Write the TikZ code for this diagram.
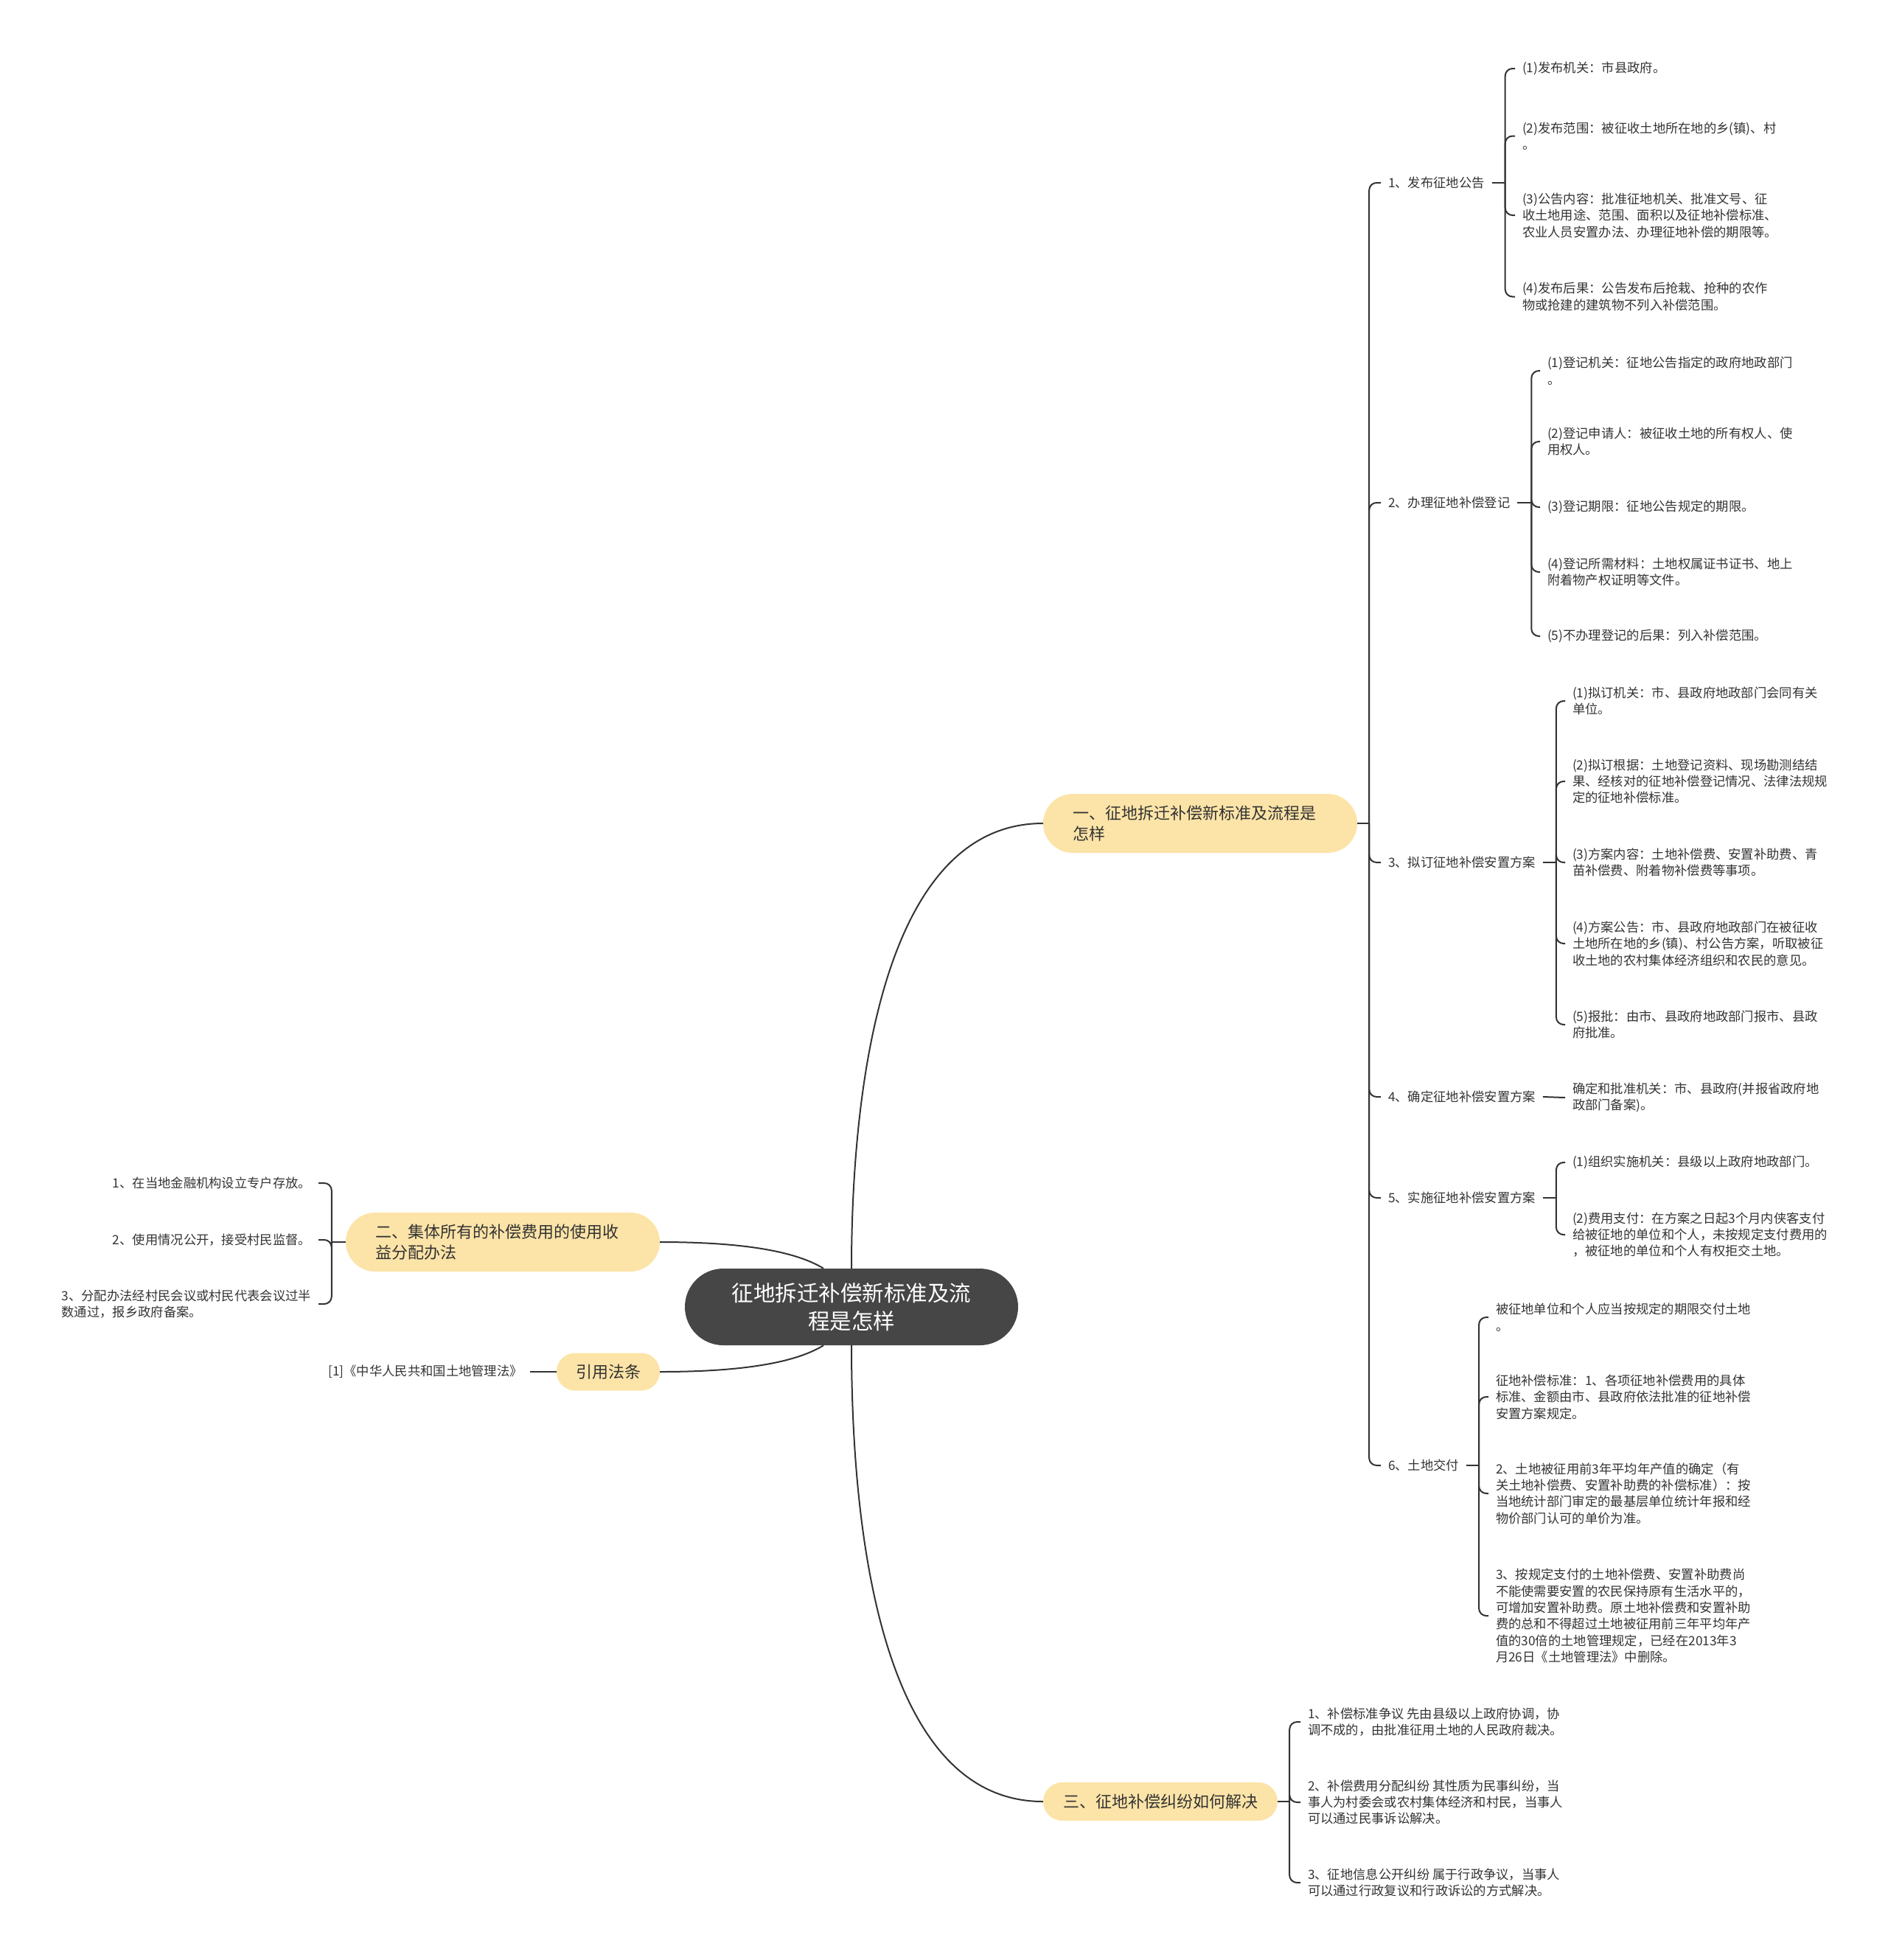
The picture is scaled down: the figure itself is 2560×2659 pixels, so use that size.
\documentclass[tikz,border=0pt]{standalone}
\usepackage{fontspec}
\setmainfont{Noto Sans CJK SC}
\usetikzlibrary{positioning}
\definecolor{hubgray}{RGB}{70,70,70}
\definecolor{branchyellow}{RGB}{252,228,168}
\definecolor{linegray}{RGB}{51,51,51}
\definecolor{textgray}{RGB}{51,51,51}
\newcommand{\leafsize}{\fontsize{17.3}{22.4}\selectfont}
\newcommand{\branchsize}{\fontsize{22}{28.5}\selectfont}
\newcommand{\hubsize}{\fontsize{29.5}{38}\selectfont}
\tikzstyle{hubnode} = [fill=hubgray, text=white, rounded corners=52pt, minimum width=452pt, minimum height=104pt, align=center, font=\hubsize, inner sep=0pt]
\tikzstyle{branch} = [fill=branchyellow, text=textgray, font=\branchsize, inner ysep=0pt]
\tikzstyle{topic} = [anchor=west, align=left, inner sep=0pt, outer xsep=10pt, font=\leafsize, text=textgray]
\tikzstyle{topicL} = [topic, anchor=east]
\tikzstyle{link} = [draw=linegray, line width=2pt, rounded corners=10pt]

\begin{document}
\begin{tikzpicture}[x=1pt, y=-1pt,
    wide/.style={branch, rounded corners=40pt, minimum height=80pt, inner xsep=40pt, text width=346pt, align=left},
    slim/.style={branch, rounded corners=26pt, minimum height=52pt, align=center}]
\useasboundingbox (0,0) rectangle (2560,2659);

% Define nodes
\node[hubnode]                           (hub) at (1155,1773) {征地拆迁补偿新标准及流\\程是怎样};
\node[wide]                              (b1)  at (1628,1117) {一、征地拆迁补偿新标准及流程是\\怎样};
\node[wide]                              (b2)  at (682,1685)  {二、集体所有的补偿费用的使用收\\益分配办法};
\node[slim, minimum width=318pt]         (b3)  at (1574,2444) {三、征地补偿纠纷如何解决};
\node[slim, minimum width=140pt, rounded corners=25pt, minimum height=51pt] (b4) at (825,1861) {引用法条};

\node[topic] (L1) at (1873,248)  {1、发布征地公告};
\node[topic] (L2) at (1873,682)  {2、办理征地补偿登记};
\node[topic] (L3) at (1873,1170) {3、拟订征地补偿安置方案};
\node[topic] (L4) at (1873,1488) {4、确定征地补偿安置方案};
\node[topic] (L5) at (1873,1625) {5、实施征地补偿安置方案};
\node[topic] (L6) at (1873,1988) {6、土地交付};

\node[topic] (c11) at (2055,93)    {(1)发布机关：市县政府。};
\node[topic] (c12) at (2055,184.5) {(2)发布范围：被征收土地所在地的乡(镇)、村\\。};
\node[topic] (c13) at (2055,292)   {(3)公告内容：批准征地机关、批准文号、征\\收土地用途、范围、面积以及征地补偿标准、\\农业人员安置办法、办理征地补偿的期限等。};
\node[topic] (c14) at (2055,402.5) {(4)发布后果：公告发布后抢栽、抢种的农作\\物或抢建的建筑物不列入补偿范围。};

\node[topic] (c21) at (2089,503) {(1)登记机关：征地公告指定的政府地政部门\\。};
\node[topic] (c22) at (2089,599) {(2)登记申请人：被征收土地的所有权人、使\\用权人。};
\node[topic] (c23) at (2089,688) {(3)登记期限：征地公告规定的期限。};
\node[topic] (c24) at (2089,776) {(4)登记所需材料：土地权属证书证书、地上\\附着物产权证明等文件。};
\node[topic] (c25) at (2089,863) {(5)不办理登记的后果：列入补偿范围。};

\node[topic] (c31) at (2123,951)  {(1)拟订机关：市、县政府地政部门会同有关\\单位。};
\node[topic] (c32) at (2123,1060) {(2)拟订根据：土地登记资料、现场勘测结结\\果、经核对的征地补偿登记情况、法律法规规\\定的征地补偿标准。};
\node[topic] (c33) at (2123,1170) {(3)方案内容：土地补偿费、安置补助费、青\\苗补偿费、附着物补偿费等事项。};
\node[topic] (c34) at (2123,1280) {(4)方案公告：市、县政府地政部门在被征收\\土地所在地的乡(镇)、村公告方案，听取被征\\收土地的农村集体经济组织和农民的意见。};
\node[topic] (c35) at (2123,1390) {(5)报批：由市、县政府地政部门报市、县政\\府批准。};

\node[topic] (c41) at (2123,1489) {确定和批准机关：市、县政府(并报省政府地\\政部门备案)。};

\node[topic] (c51) at (2123,1577) {(1)组织实施机关：县级以上政府地政部门。};
\node[topic] (c52) at (2123,1675) {(2)费用支付：在方案之日起3个月内侠客支付\\给被征地的单位和个人，未按规定支付费用的\\，被征地的单位和个人有权拒交土地。};

\node[topic] (c61) at (2019,1787) {被征地单位和个人应当按规定的期限交付土地\\。};
\node[topic] (c62) at (2019,1895) {征地补偿标准：1、各项征地补偿费用的具体\\标准、金额由市、县政府依法批准的征地补偿\\安置方案规定。};
\node[topic] (c63) at (2019,2026) {2、土地被征用前3年平均年产值的确定（有\\关土地补偿费、安置补助费的补偿标准）：按\\当地统计部门审定的最基层单位统计年报和经\\物价部门认可的单价为准。};
\node[topic] (c64) at (2019,2192) {3、按规定支付的土地补偿费、安置补助费尚\\不能使需要安置的农民保持原有生活水平的，\\可增加安置补助费。原土地补偿费和安置补助\\费的总和不得超过土地被征用前三年平均年产\\值的30倍的土地管理规定，已经在2013年3\\月26日《土地管理法》中删除。};

\node[topic] (d1) at (1764,2336) {1、补偿标准争议 先由县级以上政府协调，协\\调不成的，由批准征用土地的人民政府裁决。};
\node[topic] (d2) at (1764,2445) {2、补偿费用分配纠纷 其性质为民事纠纷，当\\事人为村委会或农村集体经济和村民，当事人\\可以通过民事诉讼解决。};
\node[topic] (d3) at (1764,2554) {3、征地信息公开纠纷 属于行政争议，当事人\\可以通过行政复议和行政诉讼的方式解决。};

\node[topicL] (e1) at (432,1605) {1、在当地金融机构设立专户存放。};
\node[topicL] (e2) at (432,1682) {2、使用情况公开，接受村民监督。};
\node[topicL] (e3) at (432,1769) {3、分配办法经村民会议或村民代表会议过半\\数通过，报乡政府备案。};

\node[topicL, left=36pt of b4.west, anchor=east] (law) {[1]《中华人民共和国土地管理法》};

% Edges
\draw[link] (hub.north) .. controls (1155,1517) and (1185,1117) .. (b1.west);
\draw[link] (hub.south) .. controls (1155,2043) and (1185,2444) .. (b3.west);
\draw[link] (b2.east) .. controls (1010,1685) and (1080,1698) .. ([xshift=-38pt]hub.north);
\draw[link] (b4.east) .. controls (1010,1861) and (1080,1848) .. ([xshift=-38pt]hub.south);

\coordinate (t1) at ([xshift=16pt]b1.east);
\draw[link] (b1.east) -- (t1);
\foreach \n in {L1,L2,L3,L4,L5,L6}
  \draw[link] (t1) |- (\n.west);

\coordinate (k1) at ([xshift=18pt]L1.east);
\coordinate (k2) at ([xshift=19pt]L2.east);
\coordinate (k3) at ([xshift=18pt]L3.east);
\coordinate (k5) at ([xshift=18pt]L5.east);
\coordinate (k6) at ([xshift=17pt]L6.east);
\draw[link] (L1.east) -- (k1);
\draw[link] (L2.east) -- (k2);
\draw[link] (L3.east) -- (k3);
\draw[link] (L5.east) -- (k5);
\draw[link] (L6.east) -- (k6);
\foreach \c in {c11,c12,c13,c14} \draw[link] (k1) |- (\c.west);
\foreach \c in {c21,c22,c23,c24,c25} \draw[link] (k2) |- (\c.west);
\foreach \c in {c31,c32,c33,c34,c35} \draw[link] (k3) |- (\c.west);
\foreach \c in {c51,c52} \draw[link] (k5) |- (\c.west);
\foreach \c in {c61,c62,c63,c64} \draw[link] (k6) |- (\c.west);
\draw[link] (L4.east) -- (c41.west);

\coordinate (k7) at ([xshift=16pt]b3.east);
\draw[link] (b3.east) -- (k7);
\foreach \c in {d1,d2,d3} \draw[link] (k7) |- (\c.west);

\coordinate (k8) at ([xshift=-19pt]b2.west);
\draw[link] (b2.west) -- (k8);
\foreach \c in {e1,e2,e3} \draw[link] (k8) |- (\c.east);

\draw[link] (b4.west) -- (law.east);
\end{tikzpicture}
\end{document}
